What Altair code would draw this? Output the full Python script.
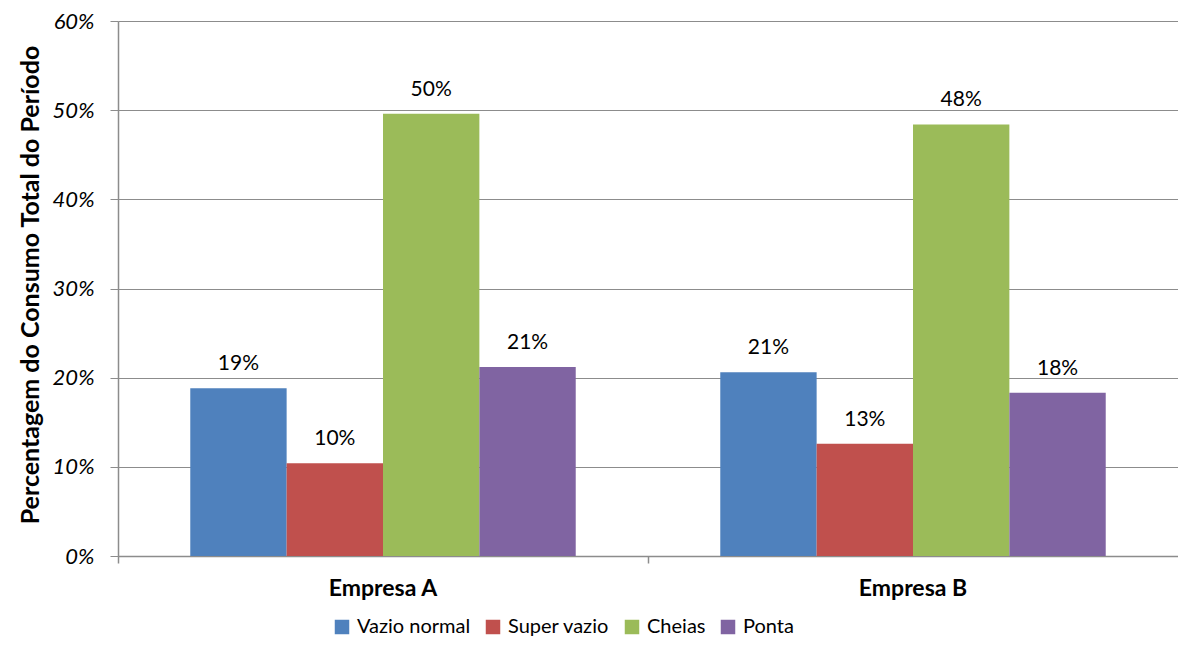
import altair as alt
import pandas as pd

groups = ["Empresa A", "Empresa B"]
series = ["Vazio normal", "Super vazio", "Cheias", "Ponta"]
colors = ["#4F81BD", "#C0504D", "#9BBB59", "#8064A2"]
empresa_a = [0.188, 0.104, 0.496, 0.212]
empresa_b = [0.206, 0.126, 0.484, 0.183]

rows = []
for g, vals in zip(groups, [empresa_a, empresa_b]):
    for s, v in zip(series, vals):
        rows.append({"grupo": g, "periodo": s, "valor": v})
df = pd.DataFrame(rows)

FONT = "Lato"
W, H = 1060, 535

x = alt.X("grupo:N", sort=groups, title=None,
          scale=alt.Scale(paddingInner=0, paddingOuter=0),
          axis=alt.Axis(labelAngle=0, labelFont=FONT, labelFontSize=23,
                        labelFontWeight="bold", labelColor="black",
                        labelPadding=14, tickSize=7, tickColor="#8c8c8c",
                        domainColor="#8c8c8c", bandPosition=0, tickWidth=1.5,
                        domainWidth=1.5))
xo = alt.XOffset("periodo:N", sort=series,
                 scale=alt.Scale(paddingInner=0, paddingOuter=0.75))
y = alt.Y("valor:Q", title="Percentagem do Consumo Total do Período",
          scale=alt.Scale(domain=[0, 0.6], nice=False),
          axis=alt.Axis(format=".0%", values=[0, 0.1, 0.2, 0.3, 0.4, 0.5, 0.6],
                        labelFont=FONT, labelFontSize=22, labelFontStyle="italic",
                        labelColor="black", labelPadding=16, tickSize=8,
                        tickColor="#8c8c8c", domainColor="#8c8c8c", domainWidth=1.5,
                        gridColor="#8c8c8c", gridWidth=1,
                        titleFont=FONT, titleFontSize=25, titleFontWeight="bold",
                        titleColor="black", titleAngle=-90, titleX=-88, titleY=H / 2 - 4,
                        titleAlign="center", titleBaseline="middle"))
color = alt.Color("periodo:N", sort=series,
                  scale=alt.Scale(domain=series, range=colors),
                  legend=alt.Legend(title=None, orient="none", direction="horizontal",
                                    legendX=214, legendY=596, symbolType="square",
                                    symbolSize=210, symbolStrokeWidth=0,
                                    symbolOpacity=1, labelFont=FONT,
                                    labelFontSize=20, labelColor="black",
                                    columnPadding=12, labelOffset=5))

bars = alt.Chart(df).mark_bar(opacity=1).encode(x=x, xOffset=xo, y=y, color=color)
labels = alt.Chart(df).mark_text(baseline="alphabetic", dy=-18, font=FONT,
                                 fontSize=21, color="black").encode(
    x=x, xOffset=xo, y=y, text=alt.Text("valor:Q", format=".0%"))

chart = (bars + labels).properties(
    width=W, height=H,
    autosize=alt.AutoSizeParams(type="none"),
    padding={"left": 110, "top": 13, "right": 0, "bottom": 81},
).configure_view(stroke=None).configure_axis(grid=False).configure_axisY(grid=True)

chart.save("out.html", embed_options={"renderer": "svg", "actions": False})
